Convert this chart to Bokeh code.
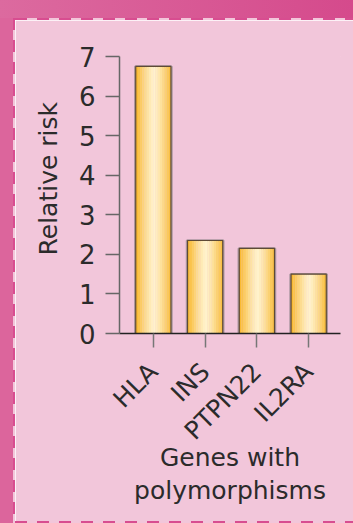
import math
from bokeh.plotting import figure
from bokeh.models import ColumnDataSource, FixedTicker, Range1d, Div, Title
from bokeh.layouts import column, row
from bokeh.transform import dodge
from bokeh.embed import file_html
from bokeh.resources import INLINE

# ---- data ----
genes = ["HLA", "INS", "PTPN22", "IL2RA"]
relative_risk = [6.75, 2.35, 2.15, 1.5]
y_ticks = [0, 1, 2, 3, 4, 5, 6, 7]

FONT = "DejaVu Sans"
TXT = "#2b2b2b"
INNER = "#f2c6da"
DASH = "#d84d90"

idx = list(range(len(genes)))
src = ColumnDataSource(dict(x=idx, top=relative_risk, gene=genes))

p = figure(width=338, height=501, output_backend="svg", toolbar_location=None,
           x_range=Range1d(-0.654, 3.615), y_range=Range1d(0, 7),
           min_border_left=104, min_border_right=13, min_border_top=36,
           min_border_bottom=188, margin=0)
p.border_fill_color = INNER
p.background_fill_color = INNER
p.outline_line_color = INNER
p.grid.visible = False


def mix(a, b, t):
    a = [int(a[i:i+2], 16) for i in (1, 3, 5)]
    b = [int(b[i:i+2], 16) for i in (1, 3, 5)]
    return "#%02x%02x%02x" % tuple(round(a[k] + (b[k] - a[k]) * t) for k in range(3))


# bars: halo, gradient strips, outline
W = 0.68
p.vbar(x="x", top="top", width=W + 0.02, bottom=0, source=src,
       fill_color=None, line_color="#ab97a0", line_width=2.5)
ns = 16
edge = "#f8b526"
center = "#fff2cc"
for i in range(ns):
    t = (i + 0.5) / ns
    d = abs(t - 0.52) / 0.52
    c = mix(center, edge, min(1.0, d ** 1.3))
    off = (t - 0.5) * W
    p.vbar(x=dodge("x", off, range=p.x_range), top="top", width=W / ns * 1.08, bottom=0,
           source=src, fill_color=c, line_color=None)
p.vbar(x="x", top="top", width=W, bottom=0, source=src,
       fill_color=None, line_color="#5e4a36", line_width=1.2)

# axes
xa = p.xaxis[0]
xa.ticker = FixedTicker(ticks=idx)
xa.major_label_overrides = {i: g for i, g in zip(idx, genes)}
xa.major_label_orientation = math.pi / 4
xa.major_tick_in = 0
xa.major_tick_out = 14
xa.minor_tick_line_color = None
xa.axis_line_color = "#222222"
xa.axis_line_width = 1.5
xa.major_tick_line_color = "#777777"
xa.major_tick_line_width = 1.5
xa.major_label_text_font = FONT
xa.major_label_text_font_size = "25px"
xa.major_label_text_color = TXT
xa.major_label_standoff = 20
xa.axis_label = "Genes with\npolymorphisms"
xa.axis_label_text_font = FONT
xa.axis_label_text_font_size = "25px"
xa.axis_label_text_font_style = "normal"
xa.axis_label_text_color = TXT
xa.axis_label_text_line_height = 1.15
xa.axis_label_standoff = -16

ya = p.yaxis[0]
ya.ticker = FixedTicker(ticks=y_ticks)
ya.major_tick_in = 0
ya.major_tick_out = 14
ya.minor_tick_line_color = None
ya.axis_line_color = "#666666"
ya.axis_line_width = 1.5
ya.major_tick_line_color = "#666666"
ya.major_tick_line_width = 1.5
ya.major_label_text_font = FONT
ya.major_label_text_font_size = "26px"
ya.major_label_text_color = TXT
ya.major_label_standoff = 10

ytitle = Title(text="Relative risk", align="left", offset=78, standoff=26,
               text_font=FONT, text_font_size="25px", text_font_style="normal",
               text_color=TXT)
p.add_layout(ytitle, "left")

hdash = ("repeating-linear-gradient(90deg, %s 0px, %s 12px, %s 12px, %s 22px)"
         % (DASH, DASH, INNER, INNER))
vdash = ("repeating-linear-gradient(180deg, %s 0px, %s 12px, %s 12px, %s 22px)"
         % (DASH, DASH, INNER, INNER))

top_band = Div(text="", width=353, height=18, margin=0,
               styles={"background": "linear-gradient(90deg, #dc6a9f, #d54a8c)"})
left_band = Div(text="", width=13, height=505, margin=0, styles={"background": "#dc659c"})
left_dash = Div(text="", width=2, height=505, margin=0, styles={"background": vdash})
top_dash = Div(text="", width=338, height=2, margin=0, styles={"background": hdash})
bot_dash = Div(text="", width=338, height=2, margin=0, styles={"background": hdash})

layout = column(top_band,
                row(left_band, left_dash,
                    column(top_dash, p, bot_dash, spacing=0, margin=0),
                    spacing=0, margin=0),
                spacing=0, margin=0)

open("out.html", "w").write(file_html(layout, INLINE))
